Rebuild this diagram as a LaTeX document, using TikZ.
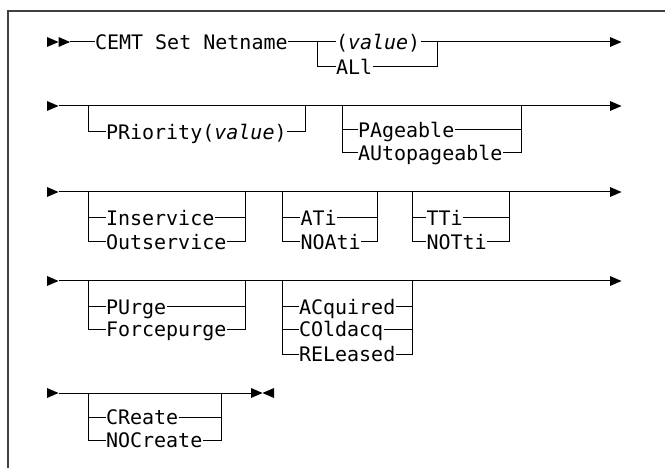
\documentclass[tikz,border=0pt]{standalone}
\usepackage{fontspec}
\setmonofont{DejaVu Sans Mono}
\begin{document}
\begin{tikzpicture}[x=1pt,y=-1pt,line width=1pt,
  lbl/.style={font=\ttfamily\fontsize{20}{21}\selectfont,inner sep=0pt,
    text height=14.6pt,text depth=0pt,anchor=west},
  rarr/.pic={\fill (0,-5) -- (11.5,0) -- (0,5) -- cycle;},
  larr/.pic={\fill (11.5,-5) -- (0,0) -- (11.5,5) -- cycle;}]
\useasboundingbox (0,0) rectangle (665,468);
\draw[line width=1.3pt,black!75] (8,470) -- (8,11) -- (667,11);

% ---------- row 1 ----------
\pic at (47,42) {rarr};
\pic at (58.5,42) {rarr};
\coordinate (s1) at (70,42);
\node[lbl] (cmd) at (94.5,42) {CEMT Set Netname};
\coordinate (j1) at (317,42);
\node[lbl] (val) at (335.5,42) {(\textit{value})};
\node[lbl] (all) at (335.5,67) {ALl};
\coordinate (k1) at (437,42);
\coordinate (e1) at (610,42);
\draw (s1) -- (cmd.west);
\draw (cmd.east) -- (val.west);
\draw (val.east) -- (e1);
\draw (j1) |- (all.west);
\draw (all.east) -| (k1);
\pic at (e1) {rarr};

% ---------- row 2 ----------
\pic at (47,106) {rarr};
\coordinate (s2) at (58.5,106);
\coordinate (e2) at (610,106);
\draw (s2) -- (e2);
\pic at (e2) {rarr};
\coordinate (p2l) at (88,106);
\coordinate (p2r) at (305,106);
\node[lbl] (prio) at (105.5,132) {PRiority(\textit{value})};
\draw (p2l) |- (prio.west);
\draw (prio.east) -| (p2r);
\coordinate (g2l) at (342,106);
\coordinate (g2r) at (521,106);
\node[lbl] (pag) at (357.5,130) {PAgeable};
\node[lbl] (aut) at (357.5,153) {AUtopageable};
\draw (g2l) |- (aut.west);
\draw (g2l |- pag.west) -- (pag.west);
\draw (aut.east) -| (g2r);
\draw (pag.east) -- (g2r |- pag.east);

% ---------- row 3 ----------
\pic at (47,192) {rarr};
\coordinate (s3) at (58.5,192);
\coordinate (e3) at (610,192);
\draw (s3) -- (e3);
\pic at (e3) {rarr};
% Inservice group
\coordinate (i3l) at (88,192);
\coordinate (i3r) at (245,192);
\node[lbl] (ins) at (105.5,218) {Inservice};
\node[lbl] (outs) at (105.5,242) {Outservice};
\draw (i3l) |- (outs.west);
\draw (i3l |- ins.west) -- (ins.west);
\draw (outs.east) -| (i3r);
\draw (ins.east) -- (i3r |- ins.east);
% ATi group
\coordinate (a3l) at (282,192);
\coordinate (a3r) at (377,192);
\node[lbl] (ati) at (300,218) {ATi};
\node[lbl] (noati) at (300,242) {NOAti};
\draw (a3l) |- (noati.west);
\draw (a3l |- ati.west) -- (ati.west);
\draw (noati.east) -| (a3r);
\draw (ati.east) -- (a3r |- ati.east);
% TTi group
\coordinate (t3l) at (412,192);
\coordinate (t3r) at (509,192);
\node[lbl] (tti) at (426,218) {TTi};
\node[lbl] (notti) at (426,242) {NOTti};
\draw (t3l) |- (notti.west);
\draw (t3l |- tti.west) -- (tti.west);
\draw (notti.east) -| (t3r);
\draw (tti.east) -- (t3r |- tti.east);

% ---------- row 4 ----------
\pic at (47,281) {rarr};
\coordinate (s4) at (58.5,281);
\coordinate (e4) at (610,281);
\draw (s4) -- (e4);
\pic at (e4) {rarr};
% PUrge group
\coordinate (u4l) at (88,281);
\coordinate (u4r) at (245,281);
\node[lbl] (pur) at (105.5,307) {PUrge};
\node[lbl] (fpur) at (105.5,329) {Forcepurge};
\draw (u4l) |- (fpur.west);
\draw (u4l |- pur.west) -- (pur.west);
\draw (fpur.east) -| (u4r);
\draw (pur.east) -- (u4r |- pur.east);
% ACquired group
\coordinate (c4l) at (282,281);
\coordinate (c4r) at (412,281);
\node[lbl] (acq) at (298.5,307) {ACquired};
\node[lbl] (cold) at (298.5,329) {COldacq};
\node[lbl] (rel) at (298.5,354) {RELeased};
\draw (c4l) |- (rel.west);
\draw (c4l |- acq.west) -- (acq.west);
\draw (c4l |- cold.west) -- (cold.west);
\draw (rel.east) -| (c4r);
\draw (acq.east) -- (c4r |- acq.east);
\draw (cold.east) -- (c4r |- cold.east);

% ---------- row 5 ----------
\pic at (47,393) {rarr};
\coordinate (s5) at (58.5,393);
\coordinate (e5) at (251,393);
\draw (s5) -- (e5);
\pic at (e5) {rarr};
\pic at (262.5,393) {larr};
\coordinate (r5l) at (88,393);
\coordinate (r5r) at (221,393);
\node[lbl] (cre) at (105.5,417) {CReate};
\node[lbl] (nocre) at (105.5,440) {NOCreate};
\draw (r5l) |- (nocre.west);
\draw (r5l |- cre.west) -- (cre.west);
\draw (nocre.east) -| (r5r);
\draw (cre.east) -- (r5r |- cre.east);
\end{tikzpicture}
\end{document}
